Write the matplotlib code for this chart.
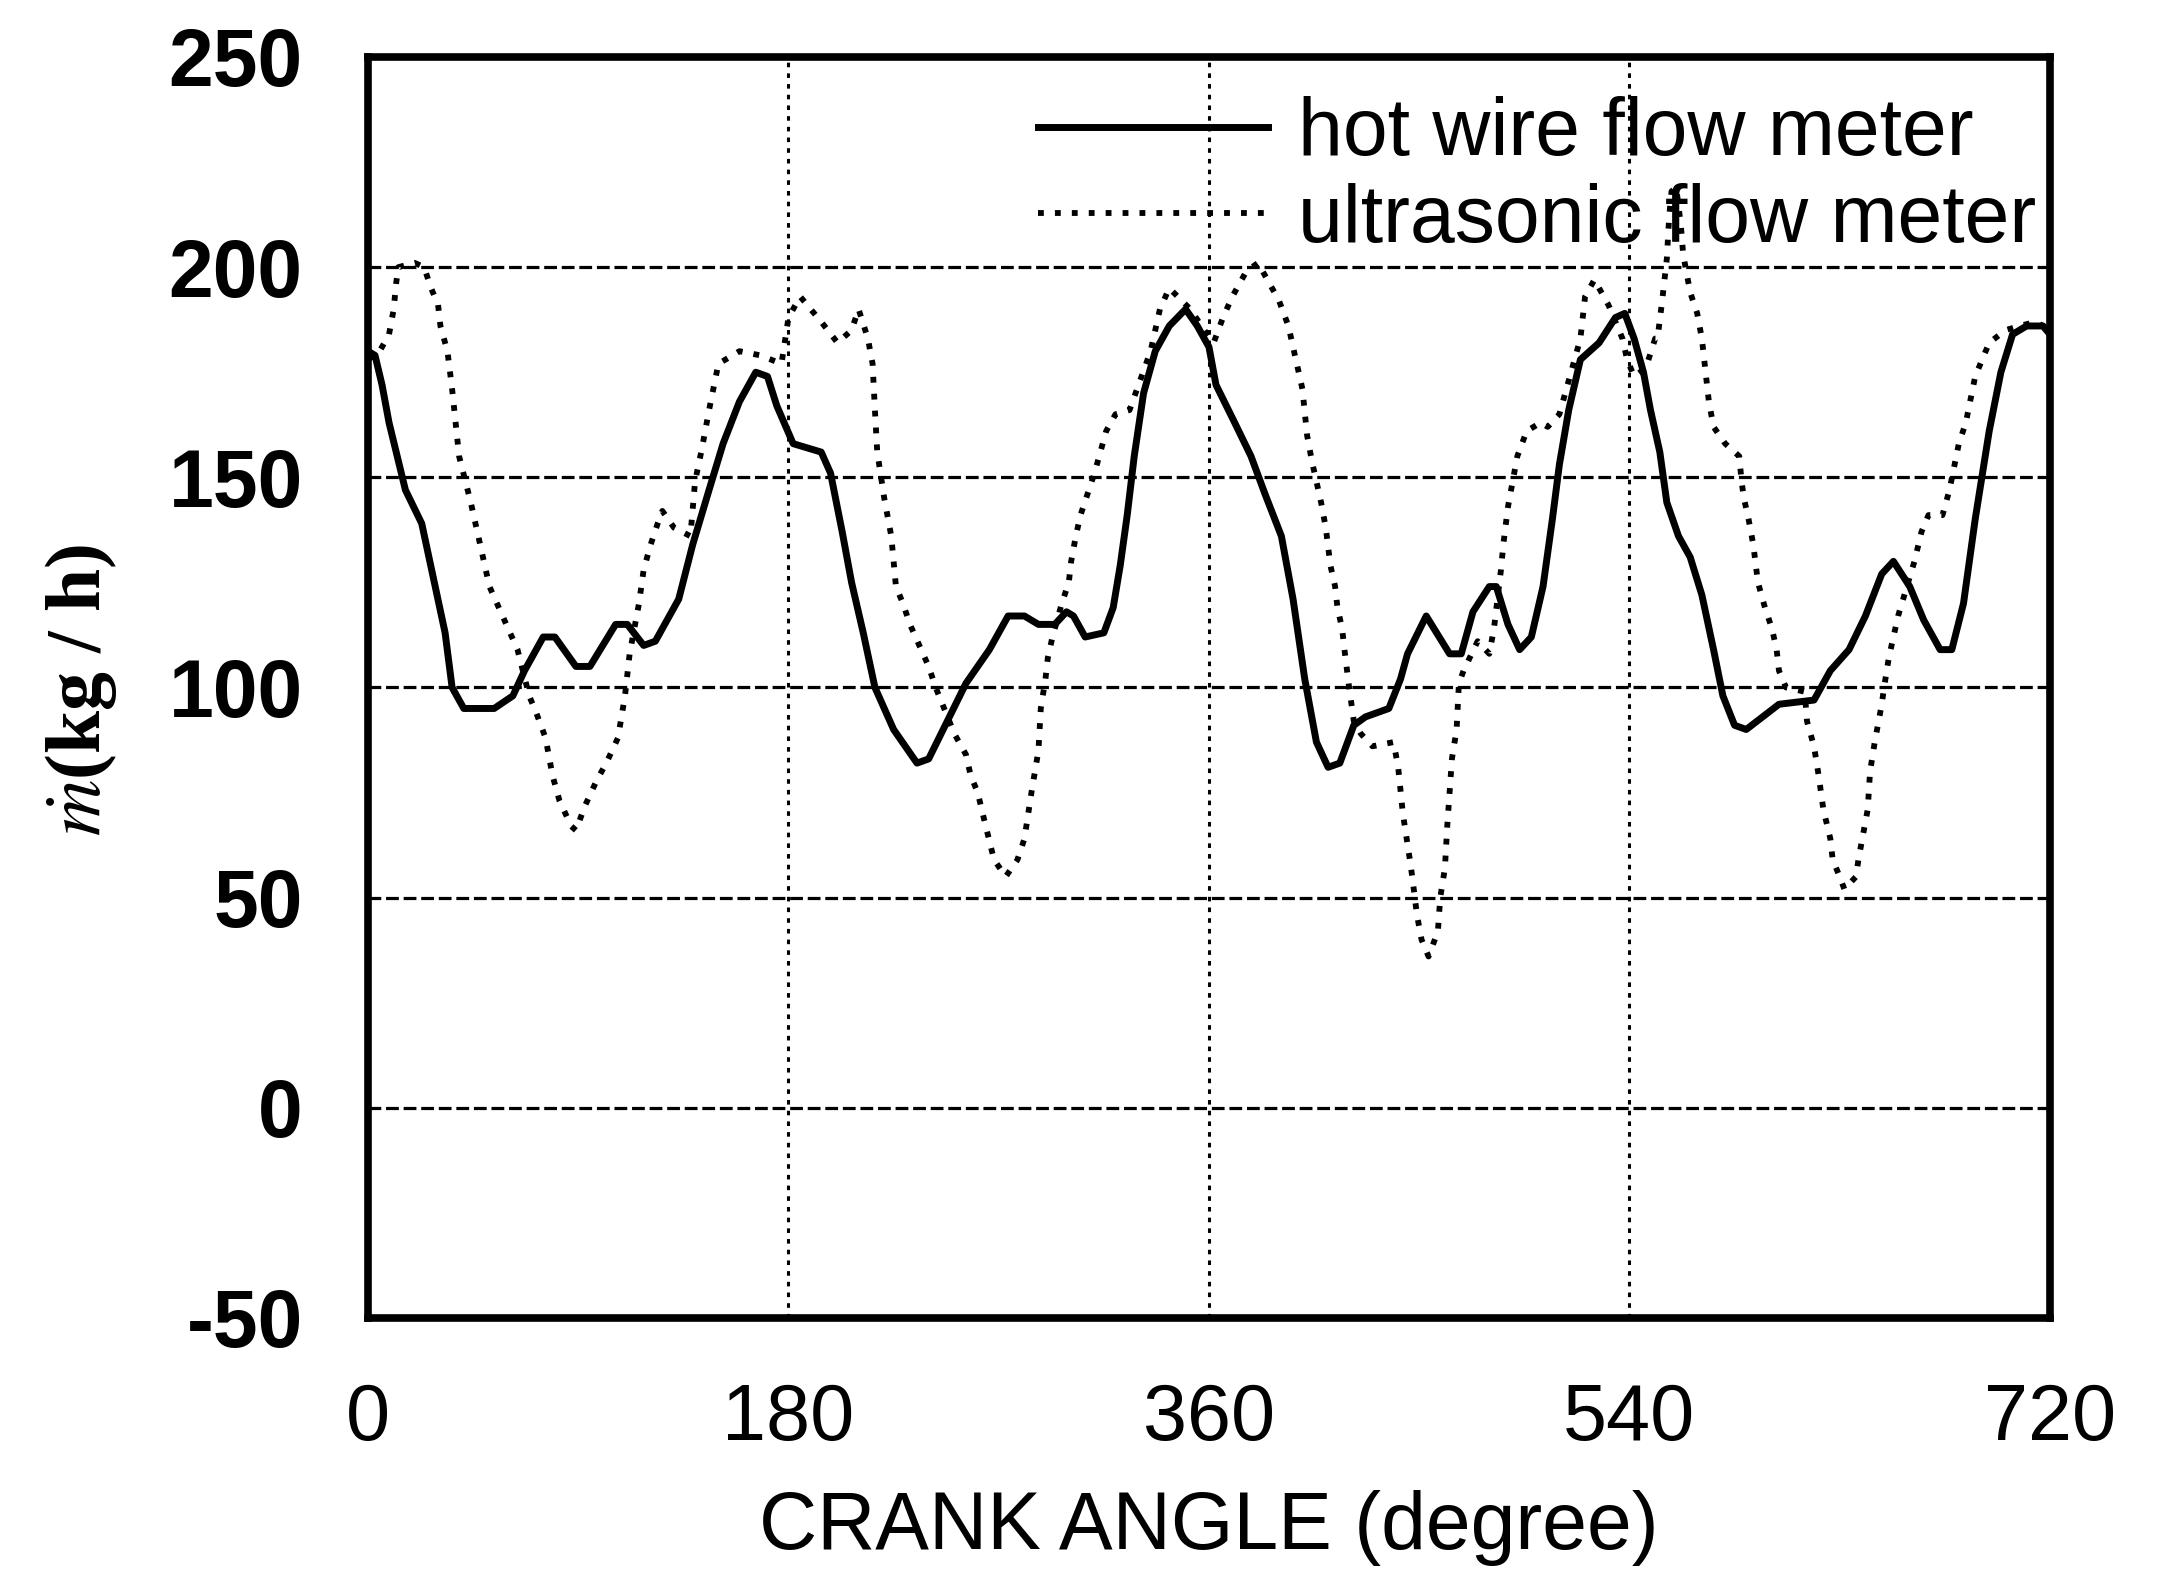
import numpy as np
import matplotlib
matplotlib.use("Agg")
import matplotlib.pyplot as plt

plt.rcParams['font.family'] = ['Liberation Sans', 'DejaVu Sans']
plt.rcParams['mathtext.fontset'] = 'stix'
plt.rcParams['axes.unicode_minus'] = False

# hot wire flow meter (crank angle, kg/h)
hot_angle = [0, 3, 6, 9, 16, 23, 28, 33, 36, 41, 54, 62, 67, 75, 80, 89, 95,
             106, 111, 118, 123, 133, 139, 146, 152, 159, 166, 171, 175, 182,
             194, 198, 203, 207, 212, 217, 225, 235, 240, 248, 256, 266, 274,
             281, 287, 294, 299, 302, 307, 315, 319, 322, 325, 328, 332, 337,
             343, 350, 355, 360, 363, 371, 378, 384, 391, 396, 401, 406, 411,
             416, 422, 427, 437, 442, 445, 453, 463, 468, 473, 480, 483, 488,
             493, 498, 503, 507, 510, 514, 519, 527, 534, 538, 542, 546, 549,
             553, 556, 561, 566, 571, 576, 580, 585, 590, 597, 604, 619, 626,
             634, 641, 648, 653, 660, 666, 673, 678, 683, 688, 694, 699, 704,
             710, 717, 720]
hot_flow = [180, 179, 172, 163, 147, 139, 126, 113, 100, 95, 95, 98, 104, 112,
            112, 105, 105, 115, 115, 110, 111, 121, 134, 147, 158, 168, 175,
            174, 167, 158, 156, 151, 137, 125, 113, 100, 90, 82, 83, 92, 101,
            109, 117, 117, 115, 115, 118, 117, 112, 113, 119, 129, 141, 155,
            170, 180, 186, 190, 186, 181, 172, 163, 155, 146, 136, 121, 102,
            87, 81, 82, 91, 93, 95, 102, 108, 117, 108, 108, 118, 124, 124,
            115, 109, 112, 124, 140, 153, 166, 178, 182, 188, 189, 183, 175,
            166, 156, 144, 136, 131, 122, 109, 98, 91, 90, 93, 96, 97, 104,
            109, 117, 127, 130, 124, 116, 109, 109, 120, 140, 161, 175, 184,
            186, 186, 184]

# ultrasonic flow meter
ultra_angle = [0, 5, 9, 11, 12, 13, 20, 24, 27, 30, 31, 34, 36, 39, 44, 48,
               52, 60, 64, 69, 72, 76, 79, 82, 87, 89, 93, 98, 102, 107, 110,
               112, 116, 118, 121, 124, 126, 131, 138, 140, 143, 146, 150, 159,
               168, 177, 180, 185, 194, 201, 207, 210, 214, 216, 217, 218, 221,
               224, 226, 229, 232, 236, 240, 243, 251, 256, 258, 261, 264, 268,
               273, 278, 281, 284, 287, 288, 290, 291, 293, 297, 300, 301, 303,
               305, 308, 311, 314, 316, 320, 326, 335, 339, 343, 352, 358, 362,
               366, 370, 376, 381, 387, 390, 394, 396, 398, 400, 402, 404, 406,
               408, 410, 412, 414, 415, 417, 418, 420, 422, 425, 430, 439, 441,
               443, 446, 447, 449, 451, 454, 458, 459, 461, 462, 463, 464, 466,
               467, 469, 475, 480, 482, 485, 486, 488, 490, 492, 496, 502, 505,
               510, 515, 519, 521, 525, 531, 537, 539, 542, 547, 551, 552, 554,
               556, 557, 558, 560, 562, 563, 566, 569, 571, 572, 574, 576, 581,
               587, 588, 589, 591, 593, 595, 598, 601, 603, 604, 607, 615, 616,
               619, 621, 623, 626, 627, 630, 632, 637, 638, 640, 642, 643, 645,
               648, 649, 651, 653, 655, 662, 665, 668, 674, 677, 681, 684, 688,
               691, 694, 701, 707, 714, 720]
ultra_flow = [178, 180, 184, 190, 196, 200, 201, 200, 195, 191, 186, 180, 171,
              155, 144, 134, 124, 114, 109, 98, 94, 88, 79, 73, 67, 66, 72, 78,
              82, 88, 98, 108, 120, 128, 134, 139, 142, 138, 136, 149, 157,
              166, 177, 180, 179, 177, 188, 193, 187, 182, 185, 190, 183, 177,
              166, 156, 145, 136, 124, 120, 115, 110, 105, 100, 89, 84, 79, 75,
              68, 59, 55, 59, 64, 75, 85, 95, 102, 107, 112, 120, 125, 130, 136,
              141, 146, 151, 157, 161, 165, 166, 180, 190, 195, 190, 185, 182,
              188, 193, 199, 201, 195, 192, 186, 181, 176, 171, 160, 154, 149,
              144, 138, 129, 124, 119, 114, 109, 100, 92, 89, 86, 87, 81, 70,
              59, 55, 46, 40, 36, 42, 50, 57, 67, 75, 83, 90, 101, 104, 111,
              108, 114, 128, 134, 143, 149, 155, 161, 163, 162, 165, 175, 183,
              193, 197, 191, 183, 178, 174, 176, 183, 183, 192, 202, 212, 218,
              219, 210, 203, 194, 189, 183, 178, 168, 162, 158, 155, 149, 145,
              140, 134, 125, 119, 114, 109, 104, 100, 99, 92, 86, 79, 71, 64,
              59, 55, 52, 55, 59, 65, 71, 80, 87, 96, 100, 107, 112, 117, 130,
              137, 141, 141, 147, 158, 163, 174, 178, 182, 185, 186, 187, 185]

x_ticks = [0, 180, 360, 540, 720]
y_ticks = [-50, 0, 50, 100, 150, 200, 250]

fig = plt.figure(figsize=(21.75, 15.78), dpi=100)
ax = fig.add_axes([0.1692, 0.1648, 0.7733, 0.7991])

ax.plot(hot_angle, hot_flow, color='black', linewidth=5,
        solid_joinstyle='round', label='hot wire flow meter')
ax.plot(ultra_angle, ultra_flow, color='black', linewidth=4.2,
        linestyle=(0, (1, 1.9)), dash_capstyle='butt',
        label='ultrasonic flow meter')

ax.set_xlim(0, 720)
ax.set_ylim(-50, 250)
ax.set_xticks(x_ticks)
ax.set_yticks(y_ticks)

# grid: dense dashes across, dots down
ax.yaxis.grid(True, color='black', linewidth=2.3, linestyle=(0, (4, 1.5)))
ax.xaxis.grid(True, color='black', linewidth=2.2, linestyle=(0, (1.5, 2)))
ax.set_axisbelow(True)

for spine in ax.spines.values():
    spine.set_linewidth(5.5)

ax.tick_params(axis='both', length=0)
ax.tick_params(axis='y', pad=47)
ax.tick_params(axis='x', pad=46)
for lab in ax.get_yticklabels():
    lab.set_fontsize(58)
    lab.set_fontweight('bold')
for lab in ax.get_xticklabels():
    lab.set_fontsize(57)

ax.set_xlabel('CRANK ANGLE (degree)', fontsize=58, va='center')
ax.xaxis.set_label_coords(0.5, -0.1665)
ax.set_ylabel(r'$\dot{m}$(kg / h)', fontsize=56, family='Liberation Serif',
              fontweight='bold', va='center')
ax.yaxis.set_label_coords(-0.1706, 0.498)

leg = ax.legend(loc='upper right', bbox_to_anchor=(0.9917, 0.969),
                bbox_transform=ax.transAxes, frameon=False, fontsize=58,
                handlelength=2.86, handletextpad=0.37, labelspacing=0.13,
                borderpad=0, borderaxespad=0)

fig.savefig('out.png', dpi=100, facecolor='white')
